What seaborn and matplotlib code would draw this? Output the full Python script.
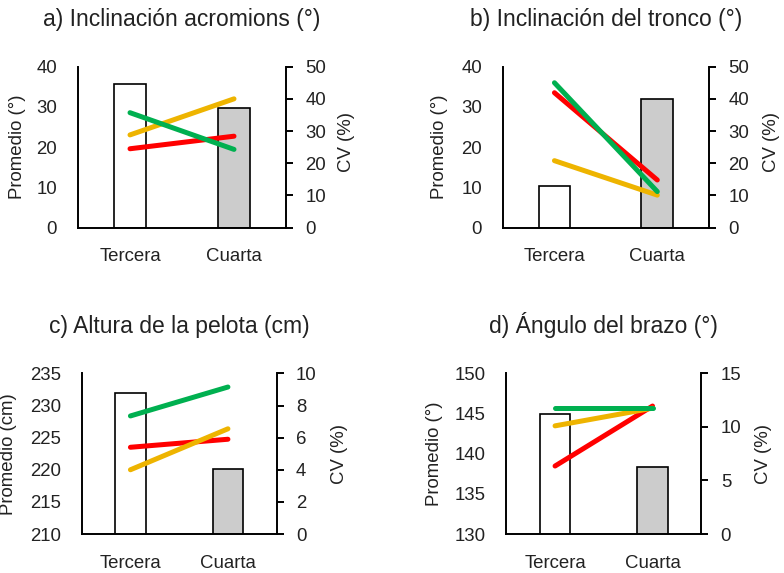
import matplotlib
matplotlib.use("Agg")
import matplotlib.pyplot as plt
import seaborn as sns
import pandas as pd

# Categories on the x axis
categorias = ["Tercera", "Cuarta"]

# Mean values (bars, left axis)
prom_acromions = [35.7, 29.7]
prom_tronco = [10.3, 32.0]
prom_pelota = [232.0, 220.1]
prom_brazo = [144.9, 138.3]

# Coefficient of variation (lines, right axis), one list per group
cv_acromions = {"rojo": [24.5, 28.4], "amarillo": [28.8, 40.0], "verde": [35.7, 24.3]}
cv_tronco = {"rojo": [41.9, 14.8], "amarillo": [20.8, 10.1], "verde": [45.0, 11.2]}
cv_pelota = {"rojo": [5.4, 5.9], "amarillo": [4.0, 6.55], "verde": [7.35, 9.15]}
cv_brazo = {"rojo": [6.35, 11.95], "amarillo": [10.1, 11.75], "verde": [11.75, 11.75]}

titulos = ["a) Inclinación acromions (°)", "b) Inclinación del tronco (°)",
           "c) Altura de la pelota (cm)", "d) Ángulo del brazo (°)"]
etiquetas_izq = ["Promedio (°)", "Promedio (°)", "Promedio (cm)", "Promedio (°)"]
etiqueta_der = "CV (%)"

sns.set_theme(style="white")
plt.rcParams["font.family"] = ["Liberation Sans", "DejaVu Sans"]
TXT = "#222222"
plt.rcParams["text.color"] = TXT

colores_linea = {"rojo": "#FF0000", "amarillo": "#EEB400", "verde": "#00B050"}
colores_barra = ["#FFFFFF", "#CCCCCC"]

fig = plt.figure(figsize=(7.84, 5.73), dpi=100)

paneles = [
    dict(rect=[0.0995, 0.6027, 0.2653, 0.281], prom=prom_acromions, cv=cv_acromions,
         ylim=(0, 40), yticks=range(0, 41, 10), y2lim=(0, 50), y2ticks=range(0, 51, 10),
         lab=(-0.252, 0.5), lab2=(1.252, 0.53)),
    dict(rect=[0.6416, 0.6027, 0.2624, 0.281], prom=prom_tronco, cv=cv_tronco,
         ylim=(0, 40), yticks=range(0, 41, 10), y2lim=(0, 50), y2ticks=range(0, 51, 10),
         lab=(-0.265, 0.5), lab2=(1.266, 0.53)),
    dict(rect=[0.1042, 0.068, 0.2487, 0.2804], prom=prom_pelota, cv=cv_pelota,
         ylim=(210, 235), yticks=range(210, 236, 5), y2lim=(0, 10), y2ticks=range(0, 11, 2),
         lab=(-0.334, 0.5), lab2=(1.281, 0.5)),
    dict(rect=[0.6458, 0.068, 0.2487, 0.2804], prom=prom_brazo, cv=cv_brazo,
         ylim=(130, 150), yticks=range(130, 151, 5), y2lim=(0, 15), y2ticks=range(0, 16, 5),
         lab=(-0.327, 0.5), lab2=(1.278, 0.5)),
]

FS = 13.4
for titulo, etq, p in zip(titulos, etiquetas_izq, paneles):
    ax = fig.add_axes(p["rect"])
    df_bar = pd.DataFrame({"cat": categorias, "prom": p["prom"]})
    sns.barplot(data=df_bar, x="cat", y="prom", hue="cat", palette=colores_barra,
                legend=False, width=0.31, edgecolor="black", linewidth=1.2, ax=ax)
    ax.set_xlim(-0.5, 1.5)
    ax.set_ylim(*p["ylim"])
    ax.set_yticks(list(p["yticks"]))
    ax.set_xlabel("")
    ax.set_ylabel(etq, fontsize=FS, color=TXT)
    ax.yaxis.set_label_coords(*p["lab"])
    ax.set_title(titulo, fontsize=16.5, pad=29, color=TXT)
    ax.tick_params(axis="both", length=0, labelsize=FS, colors=TXT)
    ax.tick_params(axis="y", pad=15)
    ax.tick_params(axis="x", pad=15)
    for s in ["top", "right"]:
        ax.spines[s].set_visible(False)
    for s in ["left", "bottom"]:
        ax.spines[s].set_color("black")
        ax.spines[s].set_linewidth(1.4)

    ax2 = ax.twinx()
    filas = []
    for grupo, vals in p["cv"].items():
        for i, v in enumerate(vals):
            filas.append({"pos": i, "cv": v, "grupo": grupo})
    df_cv = pd.DataFrame(filas)
    sns.lineplot(data=df_cv, x="pos", y="cv", hue="grupo",
                 hue_order=["rojo", "amarillo", "verde"], palette=colores_linea,
                 linewidth=3.6, solid_capstyle="round", legend=False, ax=ax2,
                 clip_on=False)
    ax2.set_xlim(-0.5, 1.5)
    ax2.set_ylim(*p["y2lim"])
    ax2.set_yticks(list(p["y2ticks"]))
    ax2.set_xlabel("")
    ax2.set_ylabel(etiqueta_der, fontsize=FS, color=TXT)
    ax2.yaxis.set_label_coords(*p["lab2"])
    ax2.tick_params(axis="y", direction="out", length=5, width=1.4, color="black",
                    labelsize=FS, pad=9, labelcolor=TXT)
    for s in ["top", "left", "bottom"]:
        ax2.spines[s].set_visible(False)
    ax2.spines["right"].set_color("black")
    ax2.spines["right"].set_linewidth(1.4)

fig.savefig("out.png", dpi=100)
